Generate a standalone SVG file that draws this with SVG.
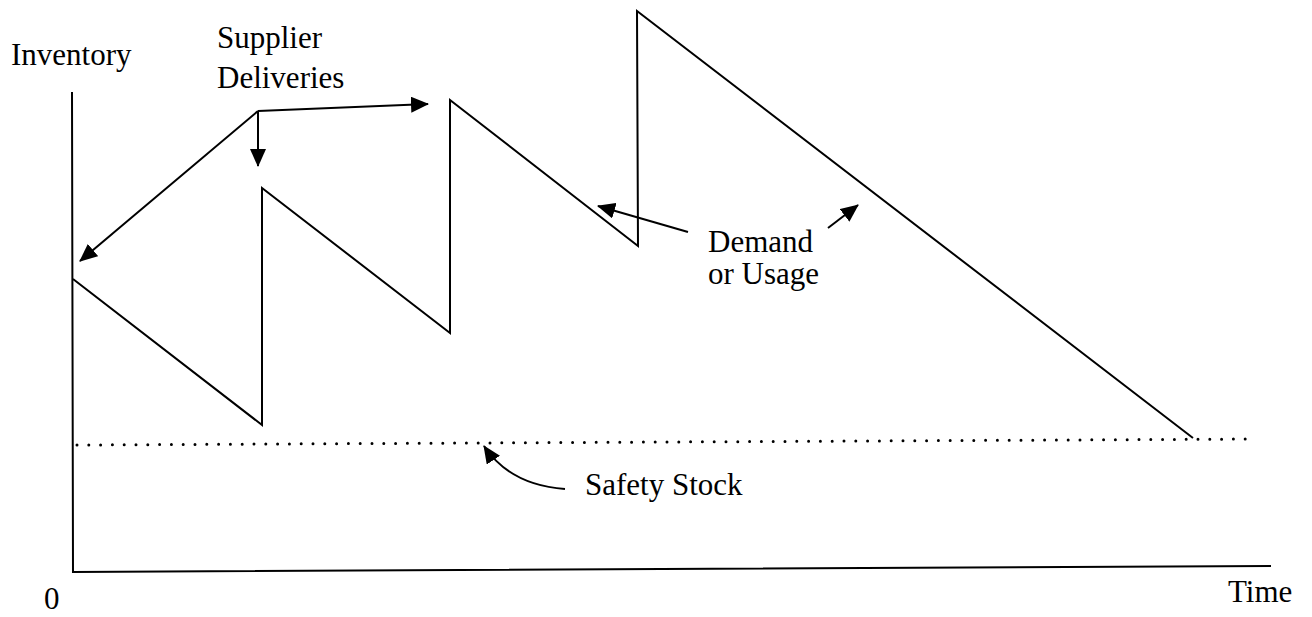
<svg xmlns="http://www.w3.org/2000/svg" width="1312" height="617" viewBox="0 0 1312 617">
  <style>
    text { font-family: "Liberation Serif", "DejaVu Serif", "Times New Roman", serif; font-size: 31px; fill: #000; }
    .ln { fill: none; stroke: #000; stroke-width: 2; }
    .arr { fill: none; stroke: #000; stroke-width: 2; marker-end: url(#head); }
    .dot { fill: none; stroke: #000; stroke-width: 3; stroke-linecap: round; stroke-dasharray: 0 11.8; }
  </style>
  <defs>
    <marker id="head" viewBox="0 0 18 16" refX="17" refY="8" markerWidth="18" markerHeight="16" markerUnits="userSpaceOnUse" orient="auto">
      <path d="M0,0 L18,8 L0,16 Z" fill="#000"/>
    </marker>
  </defs>
  <rect width="1312" height="617" fill="#fff"/>

  <!-- axes -->
  <g id="axes">
    <path class="ln" d="M72,92 L73,572 L1271,566"/>
    <text x="11" y="65">Inventory</text>
    <text x="44" y="609">0</text>
    <text x="1228" y="602">Time</text>
  </g>

  <!-- safety stock level -->
  <g id="safety-stock">
    <path class="dot" d="M77,445 L1254,439"/>
    <text x="585" y="495">Safety Stock</text>
  </g>

  <!-- inventory level over time -->
  <g id="inventory-level">
    <path class="ln" d="M73,279 L262,425 L262,188 L450,333 L450,100 L638,246 L637,11 L1193,438"/>
  </g>

  <g id="supplier-label">
    <text x="217" y="48">Supplier</text>
    <text x="217" y="88">Deliveries</text>
  </g>

  <g id="demand-label">
    <text x="708" y="252">Demand</text>
    <text x="708" y="284">or Usage</text>
  </g>

  <!-- pointer arrows -->
  <g id="connectors">
    <path class="arr" d="M258,111 L80,261"/>
    <path class="arr" d="M258,111 L258,166"/>
    <path class="arr" d="M258,111 L428,104"/>
    <path class="arr" d="M688,232 Q640,218 598,206"/>
    <path class="arr" d="M828,228 L858,205"/>
    <path class="arr" d="M565,489 Q510,485 484,446"/>
  </g>
</svg>
